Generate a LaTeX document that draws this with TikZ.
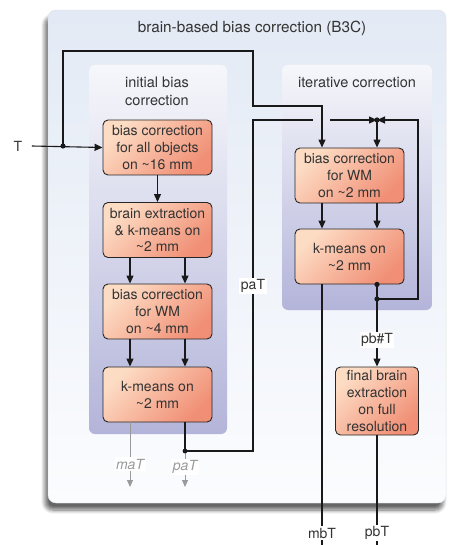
\documentclass[tikz,border=0pt]{standalone}
\usepackage{fontspec}
\setmainfont{TeX Gyre Heros}
\usetikzlibrary{arrows.meta,shadows.blur,calc}
\definecolor{boxtop}{HTML}{FDDCC4}
\definecolor{boxbot}{HTML}{F08F75}
\definecolor{paneltop}{HTML}{F6F7FB}
\definecolor{panelbot}{HTML}{B3B4D9}
\definecolor{outtop}{HTML}{E3EAF5}
\definecolor{outbot}{HTML}{FBFCFE}
\definecolor{txt}{HTML}{333333}
\definecolor{lgray}{HTML}{9A9A9A}
\begin{document}
\begin{tikzpicture}[x=1pt,y=-1pt,
  font=\fontsize{14}{16.8}\selectfont,
  proc/.style={draw=black!85, line width=0.9pt, rounded corners=5pt,
    top color=boxtop, bottom color=boxbot, shading angle=45,
    align=center, text=txt, minimum width=109pt, minimum height=55pt, inner sep=0pt},
  wire/.style={line width=1.1pt, draw=black!90},
  arr/.style={wire, -{Triangle[length=8pt,width=7pt]}},
  garr/.style={line width=1pt, draw=lgray, -{Triangle[length=7pt,width=6pt]}},
  lbl/.style={fill=white, inner sep=1.5pt, text=txt},
  glbl/.style={fill=white, inner sep=1.5pt, text=lgray, font=\fontsize{14}{16.8}\selectfont\itshape},
  dot/.style={fill=black!90}
]
\useasboundingbox (0,0) rectangle (448,545);
% outer box
\path[rounded corners=8pt, top color=outtop, bottom color=outbot, draw=black!12,
  blur shadow={shadow xshift=-3pt, shadow yshift=-7pt, shadow blur steps=8, shadow blur radius=4pt, shadow opacity=60}]
  (48,10) rectangle (446,503);
\node[text=txt, font=\fontsize{15.3}{18}\selectfont] (title) at (252,28) {brain-based bias correction (B3C)};
% panels
\path[rounded corners=6pt, top color=paneltop, bottom color=panelbot] (89,65) rectangle (227,434);
\path[rounded corners=6pt, top color=paneltop, bottom color=panelbot] (282,65) rectangle (432,310);
\node[text=txt, align=center, font=\fontsize{14.5}{18}\selectfont] (ptl) at (157,91) {initial bias\\correction};
\node[text=txt, font=\fontsize{14.5}{18}\selectfont] (ptr) at (357,82) {iterative correction};
% boxes
\node[proc] (b1) at (157.5,147.5) {bias correction\\for all objects\\on \textasciitilde16 mm};
\node[proc] (b2) at (157.5,230) {brain extraction\\\& k-means on\\\textasciitilde2 mm};
\node[proc] (b3) at (157.5,311.5) {bias correction\\for WM\\on \textasciitilde4 mm};
\node[proc] (b4) at (157.5,394.5) {k-means on\\\textasciitilde2 mm};
\node[proc] (b5) at (349.5,175.5) {bias correction\\for WM\\on \textasciitilde2 mm};
\node[proc] (b6) at (349.5,256.5) {k-means on\\\textasciitilde2 mm};
\node[proc, minimum width=83pt, minimum height=68pt] (b7) at (377,401) {final brain\\extraction\\on full\\resolution};
% input
\node[text=txt] (T) at (18,146) {T};
\coordinate (j1) at (63,146);
\draw[arr] ([xshift=6pt]T.east) -- (b1.west);
\draw[arr] (j1) -- (63,51) -- (253,51) -- (253,106) -- ([xshift=-27.5pt]b5.north |- 0,106) -- ([xshift=-27.5pt]b5.north);
\fill[dot] (j1) circle (2.6pt);
% left column
\draw[arr] (b1.south) -- (b2.north);
\draw[arr] ([xshift=-27.5pt]b2.south) -- ([xshift=-27.5pt]b3.north);
\draw[arr] ([xshift=27.5pt]b2.south) -- ([xshift=27.5pt]b3.north);
\draw[arr] ([xshift=-27.5pt]b3.south) -- ([xshift=-27.5pt]b4.north);
\draw[arr] ([xshift=27.5pt]b3.south) -- ([xshift=27.5pt]b4.north);
% outputs of initial correction
\coordinate (d1) at (185,451);
\coordinate (jn) at (377,120);
\draw[garr] ([xshift=-27.5pt]b4.south) -- (130,487);
\node[glbl] (maT) at (130,464) {maT};
\draw[garr] (d1) -- (185,487);
\node[glbl] (paTg) at (185,467) {paT};
\draw[wire] ([xshift=27.5pt]b4.south) -- (d1) -- (253,451) -- (253,120) -- (313,120);
\fill[dot] (d1) circle (2.4pt);
\node[lbl] (paT) at (253,286) {paT};
\draw[arr] (330,120) -- (jn);
% right column
\coordinate (d2) at (377,299);
\coordinate (d3) at ([xshift=27.5pt]b6.south);
\draw[arr] (d2) -- (418,299) -- (418,120) -- (jn);
\draw[arr] (jn) -- ([xshift=27.5pt]b5.north);
\fill[dot] (jn) circle (2.6pt);
\draw[arr] ([xshift=-27.5pt]b5.south) -- ([xshift=-27.5pt]b6.north);
\draw[arr] ([xshift=27.5pt]b5.south) -- ([xshift=27.5pt]b6.north);
\draw[wire] (d3) -- (d2);
\fill[dot] (d3) circle (2.6pt);
\fill[dot] (d2) circle (2.6pt);
\draw[arr] (d2) -- (b7.north);
\node[lbl] (pbhT) at (377,340) {pb\#T};
\draw[wire] ([xshift=-27.5pt]b6.south) -- (322,545);
\node[lbl] (mbT) at (322,533) {mbT};
\draw[wire] (b7.south) -- (377,545);
\node[lbl] (pbT) at (377,533) {pbT};
\end{tikzpicture}
\end{document}
